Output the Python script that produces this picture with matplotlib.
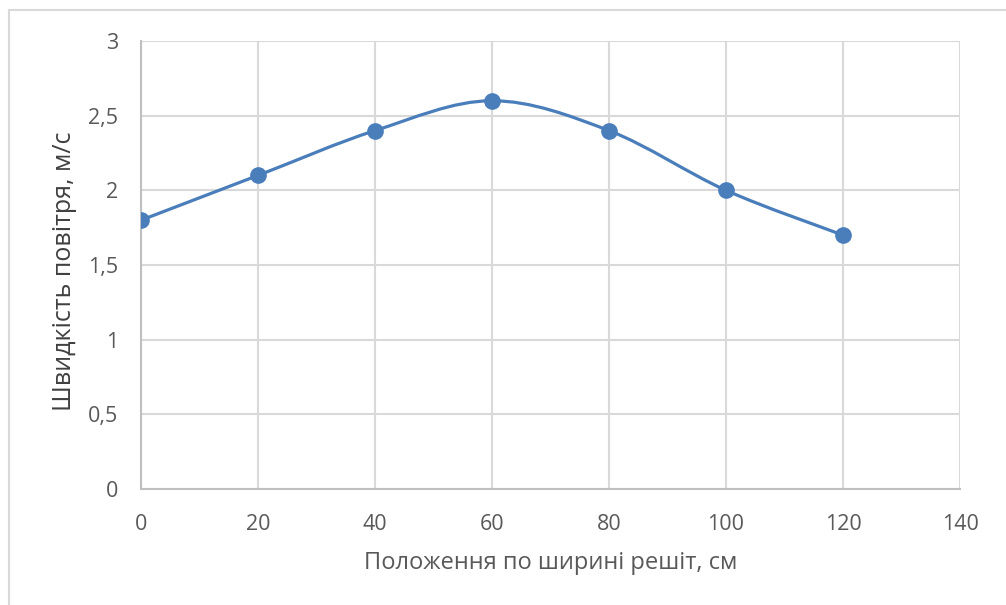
import numpy as np
import matplotlib.pyplot as plt
from matplotlib.path import Path
from matplotlib.patches import PathPatch, Rectangle
from matplotlib.ticker import FuncFormatter

# Положення вимірювань та швидкість повітря
position_cm = [0, 20, 40, 60, 80, 100, 120]
air_speed = [1.8, 2.1, 2.4, 2.6, 2.4, 2.0, 1.7]

x_ticks = [0, 20, 40, 60, 80, 100, 120, 140]
y_ticks = [0, 0.5, 1, 1.5, 2, 2.5, 3]

LINE_COLOR = '#4a7ebb'
TEXT_COLOR = '#595959'
GRID_COLOR = '#d9d9d9'

plt.rcParams['font.family'] = ['Open Sans', 'DejaVu Sans']

fig = plt.figure(figsize=(10.06, 6.05), dpi=100)
ax = fig.add_axes([141/1006, 1 - 489/605, (960 - 141)/1006, (489 - 41)/605])

# рамка діаграми
fig.patches.append(Rectangle((9/1006, -0.1), 1.2, 1.1 - 10/605, transform=fig.transFigure,
                             fill=False, edgecolor='#d9d9d9', linewidth=1.5))


def smooth_path(xs, ys, t=1/6):
    # згладжена лінія як у Excel: кубічні сегменти Безьє
    pts = np.column_stack([xs, ys]).astype(float)
    n = len(pts)
    verts = [pts[0]]
    codes = [Path.MOVETO]
    for i in range(n - 1):
        p0 = pts[i - 1] if i > 0 else pts[i]
        p1 = pts[i]
        p2 = pts[i + 1]
        p3 = pts[i + 2] if i + 2 < n else pts[i + 1]
        c1 = p1 + (p2 - p0) * t
        c2 = p2 - (p3 - p1) * t
        verts += [c1, c2, p2]
        codes += [Path.CURVE4] * 3
    return Path(verts, codes)


ax.add_patch(PathPatch(smooth_path(position_cm, air_speed), fill=False,
                       edgecolor=LINE_COLOR, linewidth=2.3, capstyle='round', zorder=3))
ax.plot(position_cm, air_speed, linestyle='none', marker='o', markersize=11,
        color=LINE_COLOR, zorder=4)

ax.set_xlim(0, 140)
ax.set_ylim(0, 3)
ax.set_xticks(x_ticks)
ax.set_yticks(y_ticks)
ax.yaxis.set_major_formatter(FuncFormatter(lambda v, p: f'{v:g}'.replace('.', ',')))
ax.grid(True, color=GRID_COLOR, linewidth=1.5)
ax.set_axisbelow(True)
for side in ['top', 'right']:
    ax.spines[side].set_visible(False)
for side in ['left', 'bottom']:
    ax.spines[side].set_color('#bfbfbf')
    ax.spines[side].set_linewidth(1.5)
ax.tick_params(length=0, labelsize=15.5, labelcolor=TEXT_COLOR)
ax.tick_params(axis='y', pad=16.5)
ax.tick_params(axis='x', pad=18)

ax.set_xlabel('Положення по ширині решіт, см', fontsize=17, color=TEXT_COLOR, va='center')
ax.set_ylabel('Швидкість повітря, м/с', fontsize=18, color='#404040', va='center')
ax.xaxis.set_label_coords(0.5, -(563 - 489) / 448)
ax.yaxis.set_label_coords(-(141 - 65) / 819, (489 - 271) / 448)

fig.savefig('out.png', dpi=100)
